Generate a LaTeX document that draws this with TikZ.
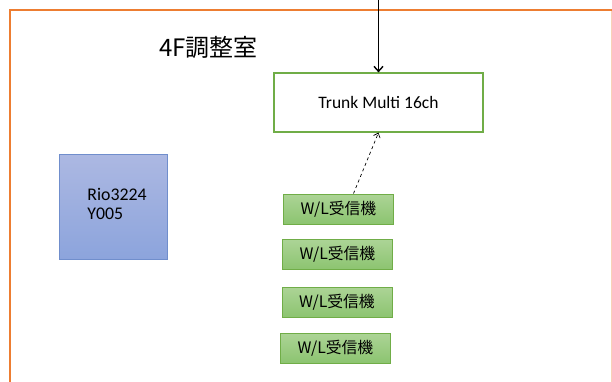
\documentclass[tikz,border=0pt]{standalone}
\usepackage{fontspec}
\setmainfont{Carlito}
\newfontfamily\cjk{Noto Sans CJK JP}
\usetikzlibrary{arrows.meta}
\definecolor{roomorange}{HTML}{ED7D31}
\definecolor{wlgreen}{HTML}{70AD47}
\definecolor{wltop}{RGB}{172,212,150}
\definecolor{wlbot}{RGB}{140,196,112}
\definecolor{rioblue}{RGB}{112,142,204}
\definecolor{riotop}{RGB}{172,184,226}
\definecolor{riobot}{RGB}{140,164,220}
\begin{document}
\begin{tikzpicture}[x=1pt,y=-1pt,
  trunkbox/.style={draw=wlgreen, line width=1.2pt, fill=white, minimum width=209pt, minimum height=59pt, inner sep=0pt},
  wlbox/.style={draw=wlgreen, line width=1pt, top color=wltop, bottom color=wlbot, minimum width=110pt, minimum height=30pt, inner sep=0pt, font=\cjk\fontsize{15.8}{18}\selectfont},
  riobox/.style={draw=rioblue, line width=1pt, top color=riotop, bottom color=riobot, minimum width=108pt, minimum height=104pt, inner sep=0pt}]
\useasboundingbox (0,0) rectangle (612,382);

% Room frame
\draw [roomorange!35, line width=1pt] (611.5,10) -- (611.5,382);
\draw [roomorange, line width=1.6pt] (10,382) -- (10,10) -- (611.5,10);
\node (room) at (208.5,47.5) {\cjk\fontsize{24}{28}\selectfont 4F調整室};

% Rio
\node [riobox] (rio) at (113.5,207) {};
\node [align=left, inner sep=0pt, font=\fontsize{17.8}{19}\selectfont] (riotext) at (117,203.5) {Rio3224\\Y005};

% Trunk Multi
\node [trunkbox] (trunk) at (378.5,102.5) {\fontsize{17.5}{20}\selectfont Trunk Multi 16ch};
\coordinate (feed) at (378.5,0);
\draw [line width=1.4pt, -{Straight Barb[length=5pt,width=9pt]}] (feed) -- (trunk.north);

% W/L receivers
\node [wlbox] (wl1) at (338.5,209) {W/L受信機};
\node [wlbox] (wl2) at (337.5,254.5) {W/L受信機};
\node [wlbox] (wl3) at (337,302) {W/L受信機};
\node [wlbox] (wl4) at (335.5,348) {W/L受信機};
\draw [dashed, line width=0.7pt, -{Straight Barb[length=4pt,width=7pt]}] ([xshift=15pt]wl1.north) -- (trunk.south);
\end{tikzpicture}
\end{document}
